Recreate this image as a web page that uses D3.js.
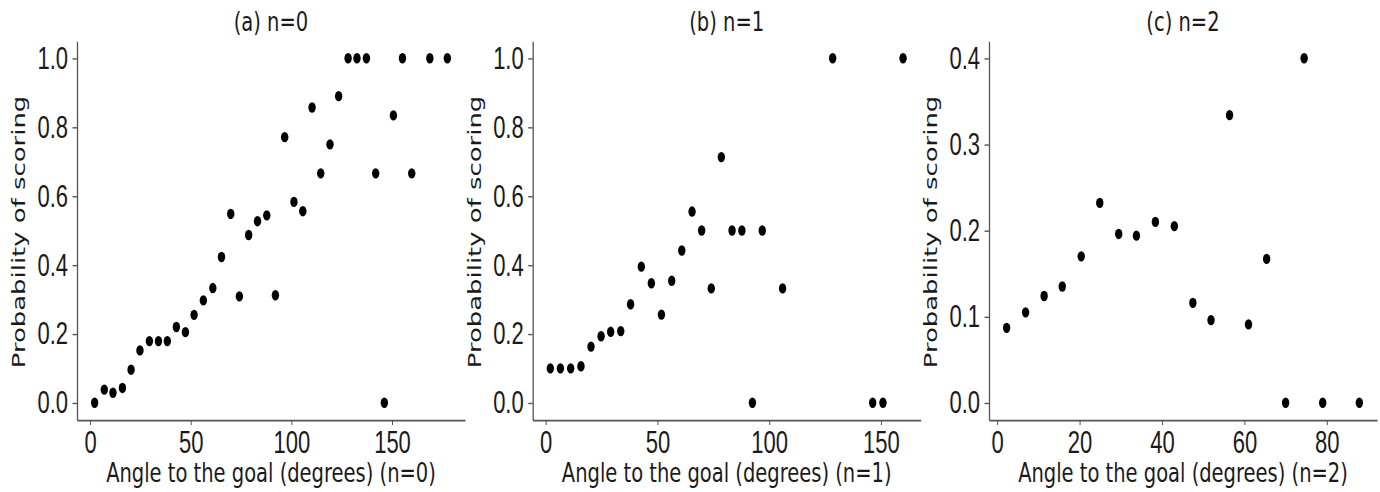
<!DOCTYPE html>
<html>
<head>
<meta charset="utf-8">
<script src="https://cdnjs.cloudflare.com/ajax/libs/d3/7.8.5/d3.min.js"></script>
<style>
  html, body { margin: 0; padding: 0; background: #fff; }
  svg { display: block; }
</style>
</head>
<body>
<div id="chart"></div>
<script>
// angle to the goal (degrees) and probability of scoring
const angleN0 = [2.3, 7.1, 11.4, 16.1, 20.4, 24.8, 29.5, 34.0, 38.4, 42.9, 47.4, 51.7, 56.3, 61.0, 65.3,
  69.9, 74.2, 78.8, 83.2, 87.8, 92.1, 96.7, 101.3, 105.7, 110.3, 114.6, 119.2, 123.5, 128.2, 132.6,
  137.3, 141.9, 146.2, 150.7, 155.2, 159.8, 168.8, 177.5];
const probN0 = [0.0, 0.038, 0.029, 0.043, 0.096, 0.152, 0.179, 0.179, 0.179, 0.22, 0.205, 0.255, 0.297, 0.333, 0.423,
  0.548, 0.309, 0.487, 0.527, 0.544, 0.312, 0.771, 0.583, 0.556, 0.857, 0.666, 0.75, 0.89, 1.0, 1.0,
  1.0, 0.666, 0.0, 0.834, 1.0, 0.666, 1.0, 1.0];

const angleN1 = [2.1, 6.6, 11.2, 15.8, 20.3, 24.8, 29.1, 33.6, 38.0, 42.8, 47.3, 51.8, 56.4, 60.9, 65.5,
  69.8, 74.1, 78.6, 83.4, 87.8, 92.5, 96.9, 106.0, 128.4, 146.3, 150.9, 159.9];
const probN1 = [0.1, 0.1, 0.1, 0.106, 0.163, 0.193, 0.206, 0.208, 0.286, 0.395, 0.347, 0.256, 0.354, 0.442, 0.555,
  0.5, 0.332, 0.713, 0.5, 0.5, 0.0, 0.5, 0.332, 1.0, 0.0, 0.0, 1.0];

const angleN2 = [2.3, 6.9, 11.4, 15.8, 20.4, 24.9, 29.5, 33.8, 38.4, 43.0, 47.5, 51.9, 56.4, 61.0, 65.4,
  70.0, 74.5, 79.0, 87.9];
const probN2 = [0.087, 0.105, 0.124, 0.135, 0.17, 0.232, 0.196, 0.194, 0.21, 0.205, 0.116, 0.096, 0.334, 0.091, 0.167,
  0.0, 0.4, 0.0, 0.0];

const titles = ['(a) n=0', '(b) n=1', '(c) n=2'];
const xLabels = ['Angle to the goal (degrees) (n=0)', 'Angle to the goal (degrees) (n=1)', 'Angle to the goal (degrees) (n=2)'];
const yLabel = 'Probability of scoring';
const xTicksAB = [0, 50, 100, 150];
const xTicksC = [0, 20, 40, 60, 80];
const yTicksAB = [0, 0.2, 0.4, 0.6, 0.8, 1.0];
const yTicksC = [0, 0.1, 0.2, 0.3, 0.4];

const W = 1380, H = 492;
const SY = 1.4;               // the picture is stretched vertically
const VH = H / SY;

const panels = [
  { x: angleN0, y: probN0, xTicks: xTicksAB, yTicks: yTicksAB, yMax: 1.0, left: 77 },
  { x: angleN1, y: probN1, xTicks: xTicksAB, yTicks: yTicksAB, yMax: 1.0, left: 532.7 },
  { x: angleN2, y: probN2, xTicks: xTicksC, yTicks: yTicksC, yMax: 0.4, left: 989 },
];
const plotW = 388, plotTop = 41 / SY, plotBottom = 420 / SY;

const svg = d3.select('#chart').append('svg')
  .attr('width', W)
  .attr('height', H)
  .attr('viewBox', `0 0 ${W} ${VH}`)
  .attr('preserveAspectRatio', 'none')
  .style('font-family', '"DejaVu Sans", sans-serif');

panels.forEach((p, i) => {
  // matplotlib style 5% margins
  const [x0, x1] = d3.extent(p.x);
  const dx = (x1 - x0) * 0.05;
  const x = d3.scaleLinear().domain([x0 - dx, x1 + dx]).range([p.left, p.left + plotW]);
  const dy = p.yMax * 0.05;
  const y = d3.scaleLinear().domain([-dy, p.yMax + dy]).range([plotBottom, plotTop]);

  const g = svg.append('g');

  const xAxis = g.append('g')
    .attr('transform', `translate(0, ${plotBottom})`)
    .call(d3.axisBottom(x).tickValues(p.xTicks).tickFormat(d3.format('d')).tickSize(3.5).tickPadding(4.5).tickSizeOuter(0));

  const yAxis = g.append('g')
    .attr('transform', `translate(${p.left}, 0)`)
    .call(d3.axisLeft(y).tickValues(p.yTicks).tickFormat(d3.format('.1f')).tickSize(4.5).tickPadding(4.5).tickSizeOuter(0));

  [xAxis, yAxis].forEach(a => {
    a.select('.domain').attr('stroke', '#555').attr('stroke-width', 1.3);
    a.selectAll('.tick line').attr('stroke', '#555').attr('stroke-width', 1);
    a.selectAll('.tick text').attr('fill', '#1a1a1a').style('font-size', '22px');
  });

  g.append('g')
    .selectAll('circle')
    .data(p.x.map((d, k) => [d, p.y[k]]))
    .join('circle')
    .attr('cx', d => x(d[0]))
    .attr('cy', d => y(d[1]))
    .attr('r', 3.7)
    .attr('fill', '#000');

  g.append('text')
    .attr('x', p.left + plotW / 2)
    .attr('y', 31 / SY)
    .attr('text-anchor', 'middle')
    .attr('fill', '#1a1a1a')
    .style('font-size', '19.5px')
    .text(titles[i]);

  g.append('text')
    .attr('x', p.left + plotW / 2)
    .attr('y', 482 / SY)
    .attr('text-anchor', 'middle')
    .attr('fill', '#1a1a1a')
    .style('font-size', '19.5px')
    .text(xLabels[i]);

  g.append('text')
    .attr('transform', `translate(${p.left - 52}, ${232 / SY}) rotate(-90)`)
    .attr('text-anchor', 'middle')
    .attr('fill', '#1a1a1a')
    .style('font-size', '18.5px')
    .text(yLabel);
});
</script>
</body>
</html>
